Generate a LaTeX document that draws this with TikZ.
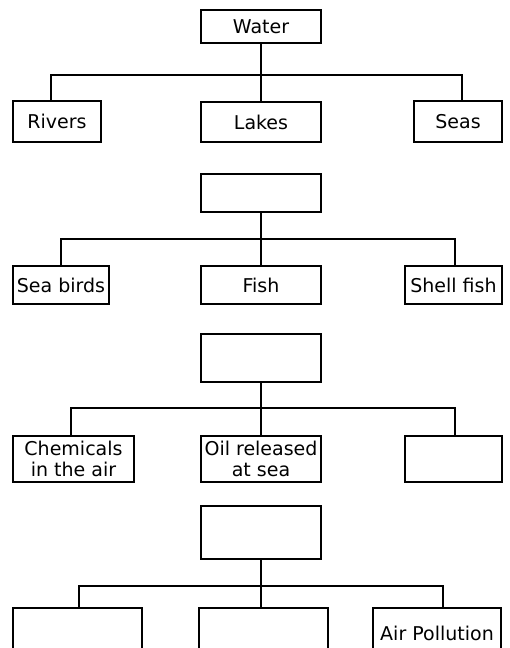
\documentclass[tikz,border=0pt]{standalone}
\usepackage{fontspec}
\setmainfont{DejaVu Sans}
\tikzset{treebox/.style={draw, rectangle, line width=1.8pt, inner sep=0pt, align=center,
                         font=\fontsize{19}{21.5}\selectfont},
         branch/.style={line width=1.6pt}}

\begin{document}
\begin{tikzpicture}[x=1pt,y=-1pt]

					\useasboundingbox (0,0) rectangle (509,648);

					\node[treebox, minimum width=120pt, minimum height=33pt] (water) at (261,26.5) {Water};
					\node[treebox, minimum width=88pt, minimum height=41pt] (rivers) at (57,121.5) {Rivers};
					\node[treebox, minimum width=120pt, minimum height=40pt] (lakes) at (261,122) {Lakes};
					\node[treebox, minimum width=88pt, minimum height=41pt] (seas) at (458,121.5) {Seas};
					\coordinate (waterleft) at (51,75);
					\coordinate (waterright) at (462,75);
					\draw[branch] (water.south) -- (lakes.north);
					\draw[branch] (rivers.north -| waterleft) -- (waterleft) -- (waterright) -- (seas.north -| waterright);

					\node[treebox, minimum width=120pt, minimum height=38pt] (life) at (261,193) {};
					\node[treebox, minimum width=96pt, minimum height=38pt] (seabirds) at (61,285) {Sea birds};
					\node[treebox, minimum width=120pt, minimum height=38pt] (fish) at (261,285) {Fish};
					\node[treebox, minimum width=97pt, minimum height=38pt] (shellfish) at (453.5,285) {Shell fish};
					\coordinate (lifeleft) at (61,239);
					\coordinate (liferight) at (455,239);
					\draw[branch] (life.south) -- (fish.north);
					\draw[branch] (seabirds.north -| lifeleft) -- (lifeleft) -- (liferight) -- (shellfish.north -| liferight);

					\node[treebox, minimum width=120pt, minimum height=48pt] (causes) at (261,358) {};
					\node[treebox, minimum width=121pt, minimum height=46pt] (chemicals) at (73.5,459) {Chemicals\\in the air};
					\node[treebox, minimum width=120pt, minimum height=46pt] (oil) at (261,459) {Oil released\\at sea};
					\node[treebox, minimum width=97pt, minimum height=46pt] (causeblank) at (453.5,459) {};
					\coordinate (causesleft) at (71,408);
					\coordinate (causesright) at (455,408);
					\draw[branch] (causes.south) -- (oil.north);
					\draw[branch] (chemicals.north -| causesleft) -- (causesleft) -- (causesright) -- (causeblank.north -| causesright);

					\node[treebox, minimum width=120pt, minimum height=53pt] (pollution) at (261,532.5) {};
					\node[treebox, minimum width=129pt, minimum height=50pt] (pollleft) at (77.5,633) {};
					\node[treebox, minimum width=129pt, minimum height=50pt] (pollmid) at (263.5,633) {};
					\node[treebox, minimum width=128pt, minimum height=50pt] (air) at (437,633) {Air Pollution};
					\coordinate (pollutionleft) at (79,586);
					\coordinate (pollutionright) at (443,586);
					\draw[branch] (pollution.south) -- (pollution.south |- pollmid.north);
					\draw[branch] (pollleft.north -| pollutionleft) -- (pollutionleft) -- (pollutionright) -- (air.north -| pollutionright);

\end{tikzpicture}
\end{document}
